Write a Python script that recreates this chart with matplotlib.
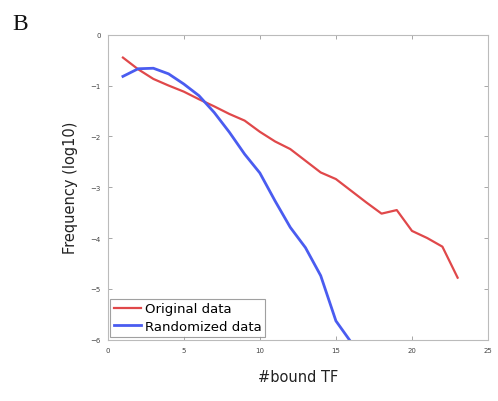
import matplotlib
matplotlib.use('Agg')
import matplotlib.pyplot as plt

bound_tf = list(range(1, 24))
original = [-0.45, -0.68, -0.87, -1.00, -1.12, -1.27, -1.41, -1.56, -1.69, -1.91,
            -2.10, -2.25, -2.48, -2.71, -2.84, -3.07, -3.30, -3.52, -3.45, -3.86,
            -4.00, -4.17, -4.78]
rand_x = list(range(1, 17))
randomized = [-0.82, -0.67, -0.66, -0.77, -0.97, -1.20, -1.53, -1.92, -2.35, -2.72,
              -3.27, -3.79, -4.19, -4.74, -5.63, -6.05]

fig = plt.figure(figsize=(4.98, 4.02), dpi=100)
ax = fig.add_axes([0.2163, 0.1525, 0.7637, 0.7587])

ax.plot(bound_tf, original, color='#e0484a', lw=1.6, label='Original data')
ax.plot(rand_x, randomized, color='#4a5cf0', lw=2.0, label='Randomized data')

ax.set_xlim(0, 25)
ax.set_ylim(-6, 0)
ax.set_xticks([0, 5, 10, 15, 20, 25])
ax.set_yticks([0, -1, -2, -3, -4, -5, -6])
ax.tick_params(direction='in', top=True, right=True, labelsize=5, colors='#999999',
               labelcolor='#444444', length=3, width=0.6, pad=5)
for s in ax.spines.values():
    s.set_color('#bbbbbb')
    s.set_linewidth(0.8)

ax.set_ylabel('Frequency (log10)', fontsize=10.5, color='#222222', labelpad=9)
ax.set_xlabel('#bound TF', fontsize=10.5, color='#222222', labelpad=12)

leg = ax.legend(loc='lower left', fontsize=9.5, frameon=True, fancybox=False,
                handlelength=2.0, borderpad=0.3, labelspacing=0.35, borderaxespad=0.2,
                handletextpad=0.3)
leg.get_frame().set_edgecolor('#888888')
leg.get_frame().set_linewidth(0.8)

fig.text(0.025, 0.925, 'B', fontsize=17, family='Liberation Serif', color='#111111')

fig.savefig('out.png', dpi=100)
